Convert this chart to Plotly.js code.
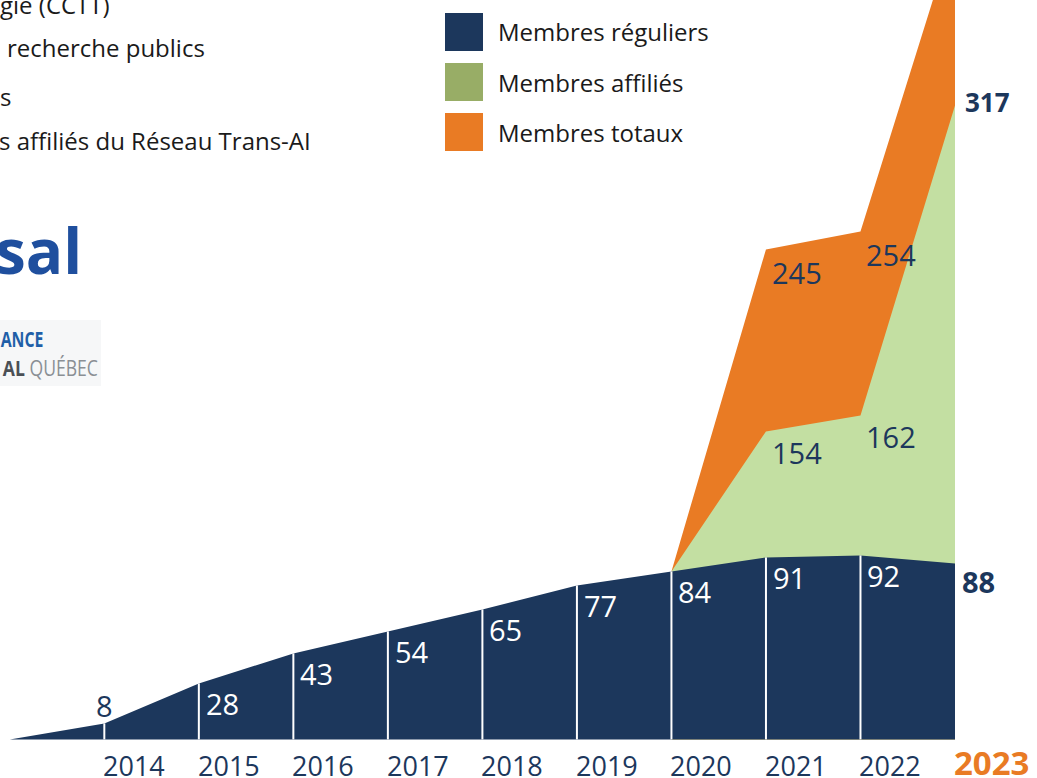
<!DOCTYPE html>
<html>
<head>
<meta charset="utf-8">
<script src="https://cdn.plot.ly/plotly-3.0.1.min.js"></script>
<style>
  html, body { margin: 0; padding: 0; background: #ffffff; }
  #chart { width: 1037px; height: 778px; }
</style>
</head>
<body>
<div id="chart"></div>
<script>
// ---------- data ----------
const years = [2013, 2014, 2015, 2016, 2017, 2018, 2019, 2020, 2021, 2022, 2023];
const regular = [0, 8, 28, 43, 54, 65, 77, 84, 91, 92, 88];
const affYears = [2020, 2021, 2022, 2023];
const affiliated = [84, 154, 162, 317];
const total = [84, 245, 254, 405];
const yearLabels = ['2014', '2015', '2016', '2017', '2018', '2019', '2020', '2021', '2022', '2023'];
const legendLabels = ['Membres réguliers', 'Membres affiliés', 'Membres totaux'];
const sideTexts = ['gie (CCTT)', 'recherche publics', 's', 's affiliés du Réseau Trans-AI'];

// ---------- style ----------
const W = 1037, H = 778;
const NAVY = '#1c375c';
const GREEN = '#c3dfa2';
const GREEN_LEG = '#98ad66';
const ORANGE = '#e97b24';
const TXT = '#1a1a1a';
const FONT = 'Open Sans, Poppins, sans-serif';
const NARROW = 'Open Sans, sans-serif';
const px = v => v / W;
const py = v => 1 - v / H;

const traces = [];
traces.push({ x: affYears, y: total, type: 'scatter', mode: 'none', fill: 'tozeroy',
  fillcolor: ORANGE, hoverinfo: 'skip' });
traces.push({ x: affYears, y: affiliated, type: 'scatter', mode: 'none', fill: 'tozeroy',
  fillcolor: GREEN, hoverinfo: 'skip' });
traces.push({ x: years, y: regular, type: 'scatter', mode: 'none', fill: 'tozeroy',
  fillcolor: NAVY, hoverinfo: 'skip' });

// white separators at each year inside the navy area
const sepX = [], sepY = [];
years.forEach((yr, i) => {
  if (i > 0 && i < years.length - 1) {
    sepX.push(yr, yr, null);
    sepY.push(0, regular[i], null);
  }
});
traces.push({ x: sepX, y: sepY, type: 'scatter', mode: 'lines',
  line: { color: '#ffffff', width: 2 }, hoverinfo: 'skip' });

const ann = [];
// regular labels
years.forEach((yr, i) => {
  if (i === 0) return;
  const v = regular[i];
  if (i === 1) {
    ann.push({ x: yr, y: v, xref: 'x', yref: 'y', text: String(v), showarrow: false,
      xanchor: 'center', yanchor: 'middle', yshift: 18,
      font: { family: FONT, size: 29, color: NAVY } });
  } else if (i === years.length - 1) {
    ann.push({ x: yr, y: v, xref: 'x', yref: 'y', text: '<b>' + v + '</b>', showarrow: false,
      xanchor: 'left', yanchor: 'middle', xshift: 5, yshift: -18,
      font: { family: FONT, size: 29, color: NAVY } });
  } else {
    ann.push({ x: yr, y: v, xref: 'x', yref: 'y', text: String(v), showarrow: false,
      xanchor: 'left', yanchor: 'middle', xshift: 5, yshift: -20,
      font: { family: FONT, size: 29, color: '#ffffff' } });
  }
});
// affiliated + total labels
affYears.forEach((yr, i) => {
  if (i === 0) return;
  if (i === affYears.length - 1) {
    ann.push({ x: yr, y: affiliated[i], xref: 'x', yref: 'y', text: '<b>' + affiliated[i] + '</b>',
      showarrow: false, xanchor: 'left', yanchor: 'middle', xshift: 8, yshift: 3,
      font: { family: FONT, size: 26, color: NAVY } });
    return;
  }
  ann.push({ x: yr, y: affiliated[i], xref: 'x', yref: 'y', text: String(affiliated[i]),
    showarrow: false, xanchor: 'left', yanchor: 'middle', xshift: 4, yshift: -21,
    font: { family: FONT, size: 29, color: NAVY } });
  ann.push({ x: yr, y: total[i], xref: 'x', yref: 'y', text: String(total[i]),
    showarrow: false, xanchor: 'left', yanchor: 'middle', xshift: 4, yshift: -23,
    font: { family: FONT, size: 29, color: NAVY } });
});
// year labels
yearLabels.forEach((lab, i) => {
  const last = i === yearLabels.length - 1;
  ann.push({ x: Number(lab), y: 0, xref: 'x', yref: 'y',
    text: last ? '<b>' + lab + '</b>' : lab, showarrow: false,
    xanchor: 'left', yanchor: 'middle', xshift: -3, yshift: last ? -23 : -26,
    font: { family: FONT, size: last ? 33 : 27, color: last ? ORANGE : NAVY } });
});

// legend
const legColors = [NAVY, GREEN_LEG, ORANGE];
const shapes = [];
legendLabels.forEach((lab, i) => {
  const top = 13 + i * 50;
  shapes.push({ type: 'rect', xref: 'paper', yref: 'paper',
    x0: px(445), x1: px(483), y0: py(top + 38), y1: py(top),
    fillcolor: legColors[i], line: { width: 0 } });
  ann.push({ xref: 'paper', yref: 'paper', x: px(496), y: py(top + 19), text: lab,
    showarrow: false, xanchor: 'left', yanchor: 'middle',
    font: { family: FONT, size: 24, color: TXT } });
});

// side texts (cropped from a larger infographic)
const sideRight = [112, 207, 13, 313];
const sideY = [4, 48, 96, 140];
sideTexts.forEach((t, i) => {
  ann.push({ xref: 'paper', yref: 'paper', x: px(sideRight[i]), y: py(sideY[i]), text: t,
    showarrow: false, xanchor: 'right', yanchor: 'middle',
    font: { family: FONT, size: 24, color: TXT } });
});

// logos (approximated as text)
shapes.push({ type: 'rect', xref: 'paper', yref: 'paper', x0: 0, x1: px(101),
  y0: py(386), y1: py(320), fillcolor: '#f6f7f8', line: { width: 0 }, layer: 'below' });
ann.push({ xref: 'paper', yref: 'paper', x: px(84), y: py(250), text: '<b>sal</b>',
  showarrow: false, xanchor: 'right', yanchor: 'middle',
  font: { family: FONT, size: 62, color: '#1f4f9e' } });
ann.push({ xref: 'paper', yref: 'paper', x: px(45), y: py(338), text: '<b>ANCE</b>',
  showarrow: false, xanchor: 'right', yanchor: 'middle',
  font: { family: NARROW, size: 22, color: '#1f5fa8' } });
ann.push({ xref: 'paper', yref: 'paper', x: px(100), y: py(367),
  text: '<b><span style="color:#4a4f55">AL</span></b> QUÉBEC',
  showarrow: false, xanchor: 'right', yanchor: 'middle',
  font: { family: NARROW, size: 22, color: '#8a8f94' } });

const x0px = 9.8, step = 94.52, y0px = 739.4, yscale = 2.0;
const layout = {
  width: W, height: H,
  margin: { l: 0, r: 0, t: 0, b: 0, pad: 0 },
  paper_bgcolor: '#ffffff', plot_bgcolor: '#ffffff',
  showlegend: false,
  xaxis: { range: [2013 - x0px / step, 2013 + (W - x0px) / step], visible: false, fixedrange: true },
  yaxis: { range: [(y0px - H) / yscale, y0px / yscale], visible: false, fixedrange: true },
  annotations: ann,
  shapes: shapes
};
Plotly.newPlot('chart', traces, layout, { displayModeBar: false, staticPlot: true }).then(() => {
  // condensed look for the logo lettering (no condensed font installed)
  document.querySelectorAll('text.annotation-text').forEach(t => {
    const s = t.textContent;
    let k = null;
    if (s === 'ANCE') k = 0.72;
    else if (s === 'AL QUÉBEC') k = 0.8;
    if (k) {
      t.style.transformBox = 'fill-box';
      t.style.transformOrigin = '100% 50%';
      t.style.transform = 'scaleX(' + k + ')';
    }
  });
});
</script>
</body>
</html>
